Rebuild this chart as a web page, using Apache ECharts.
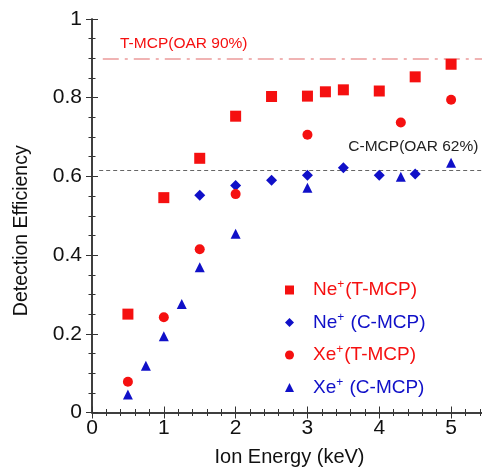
<!DOCTYPE html>
<html><head><meta charset="utf-8">
<script src="https://cdn.jsdelivr.net/npm/echarts@6/dist/echarts.min.js"></script>
<style>html,body{margin:0;padding:0;background:#fff}#c{width:482px;height:467px}</style>
</head><body><div id="c"></div>
<script>
// Data
var neT_x = [0.5, 1, 1.5, 2, 2.5, 3, 3.25, 3.5, 4, 4.5, 5];
var neT_y = [0.25, 0.546, 0.646, 0.753, 0.803, 0.804, 0.815, 0.82, 0.817, 0.853, 0.885];
var neC_x = [1.5, 2, 2.5, 3, 3.5, 4, 4.5];
var neC_y = [0.552, 0.577, 0.59, 0.603, 0.622, 0.603, 0.606];
var xeT_x = [0.5, 1, 1.5, 2, 3, 4.3, 5];
var xeT_y = [0.078, 0.242, 0.415, 0.555, 0.706, 0.737, 0.795];
var xeC_x = [0.5, 0.75, 1, 1.25, 1.5, 2, 3, 4.3, 5];
var xeC_y = [0.046, 0.119, 0.194, 0.276, 0.369, 0.454, 0.571, 0.599, 0.635];
var refT = 0.9, refC = 0.615;
var refT_label = 'T-MCP(OAR 90%)', refC_label = 'C-MCP(OAR 62%)';
var xTicks = [0, 1, 2, 3, 4, 5];
var yTicks = [0, 0.2, 0.4, 0.6, 0.8, 1];

function pairs(xs, ys){ return xs.map(function(x,i){return [x, ys[i]];}); }

var RED = '#f51010', BLUE = '#1010c8', FONT = 'Liberation Sans, Arial, sans-serif';
var chart = echarts.init(document.getElementById('c'));

var axisCommon = {
  axisLine: {show: true, lineStyle: {color: '#333', width: 1.5}},
  axisTick: {show: true, inside: true, length: 6, lineStyle: {color: '#333', width: 1}},
  minorTick: {show: true, splitNumber: 5, length: 3.5, lineStyle: {color: '#333', width: 1}},
  splitLine: {show: false}
};
function mk(base, extra){ return Object.assign({}, base, extra); }

var legendRich = {
  sp: {width: 14},
  n: {fontSize: 19, fontFamily: FONT, lineHeight: 22},
  s: {fontSize: 12, fontFamily: FONT, verticalAlign: 'top', padding: [0, 1, 8, 0], lineHeight: 22}
};

chart.setOption({
  animation: false,
  backgroundColor: '#fff',
  textStyle: {fontFamily: FONT},
  grid: {left: 92, top: 19, right: -5, bottom: 54.5, containLabel: false, outerBoundsMode: 'none'},
  xAxis: [
    mk(axisCommon, {type: 'value', min: 0, max: 5.5, interval: 1, position: 'bottom',
      minorTick: {show: true, splitNumber: 5, length: 3.5, lineStyle: {color: '#333'}},
      axisLabel: {fontSize: 21, color: '#111', margin: 5, fontFamily: FONT,
        formatter: function(v){ return xTicks.indexOf(v) >= 0 ? String(v) : ''; }},
      name: 'Ion Energy (keV)', nameLocation: 'middle', nameGap: 35,
      nameTextStyle: {fontSize: 20, color: '#111', fontFamily: FONT}}),
    mk(axisCommon, {type: 'value', min: 0, max: 5.5, interval: 1, position: 'top',
      axisLabel: {show: false}})
  ],
  yAxis: [
    mk(axisCommon, {type: 'value', min: 0, max: 1, interval: 0.2, position: 'left',
      minorTick: {show: true, splitNumber: 4, length: 3.5, lineStyle: {color: '#333'}},
      axisLabel: {fontSize: 21, color: '#111', margin: 10, fontFamily: FONT,
        formatter: function(v){ var r = Math.round(v*10)/10; return yTicks.indexOf(r) >= 0 ? String(r) : ''; }},
      name: 'Detection Efficiency', nameLocation: 'middle', nameGap: 60,
      nameTextStyle: {fontSize: 19.5, color: '#111', fontFamily: FONT, padding: [0, 30, 0, 0]}}),
    mk(axisCommon, {type: 'value', min: 0, max: 1, interval: 0.2, position: 'right',
      minorTick: {show: true, splitNumber: 4, length: 3.5, lineStyle: {color: '#333'}},
      axisLabel: {show: false}})
  ],
  legend: {
    orient: 'vertical', left: 280, top: 274, itemGap: 12,
    itemWidth: 9, itemHeight: 9,
    formatter: function(name){
      var p = name.split('+');
      return '{sp|}{n|' + p[0] + '}{s|+}{n|' + p[1] + '}';
    },
    textStyle: {fontSize: 19, rich: legendRich},
    data: [
      {name: 'Ne+(T-MCP)', icon: 'rect', textStyle: {color: RED}},
      {name: 'Ne+ (C-MCP)', icon: 'diamond', textStyle: {color: BLUE}},
      {name: 'Xe+(T-MCP)', icon: 'circle', textStyle: {color: RED}},
      {name: 'Xe+ (C-MCP)', icon: 'triangle', textStyle: {color: BLUE}}
    ]
  },
  series: [
    {name: 'Ne+(T-MCP)', type: 'scatter', symbol: 'rect', symbolSize: 11,
      itemStyle: {color: RED, opacity: 1}, data: pairs(neT_x, neT_y), z: 5,
      markLine: {silent: true, symbol: 'none', label: {show: false},
        lineStyle: {color: '#eb9a9a', width: 1.5, type: [16, 6, 3, 6]},
        data: [[{coord: [0.15, refT]}, {coord: [5.5, refT]}]]}},
    {name: 'Ne+ (C-MCP)', type: 'scatter', symbol: 'diamond', symbolSize: 11,
      itemStyle: {color: BLUE, opacity: 1}, data: pairs(neC_x, neC_y), z: 5,
      markLine: {silent: true, symbol: 'none', label: {show: false},
        lineStyle: {color: '#666', width: 1, type: [4, 3]},
        data: [[{coord: [0.1, refC]}, {coord: [5.5, refC]}]]}},
    {name: 'Xe+(T-MCP)', type: 'scatter', symbol: 'circle', symbolSize: 10,
      itemStyle: {color: RED, opacity: 1}, data: pairs(xeT_x, xeT_y), z: 5},
    {name: 'Xe+ (C-MCP)', type: 'scatter', symbol: 'triangle', symbolSize: 10,
      itemStyle: {color: BLUE, opacity: 1}, data: pairs(xeC_x, xeC_y), z: 5}
  ]
});

var pT = chart.convertToPixel({gridIndex: 0}, [0.39, refT]);
var pC = chart.convertToPixel({gridIndex: 0}, [5.38, refC]);
chart.setOption({
  graphic: [
    {type: 'text', x: pT[0], y: pT[1] - 15, style: {text: refT_label, fill: RED, font: '15.5px ' + FONT, textVerticalAlign: 'middle'}},
    {type: 'text', x: pC[0], y: pC[1] - 24, style: {text: refC_label, fill: '#222', font: '15.5px ' + FONT, textAlign: 'right', textVerticalAlign: 'middle'}}
  ]
});
</script></body></html>
